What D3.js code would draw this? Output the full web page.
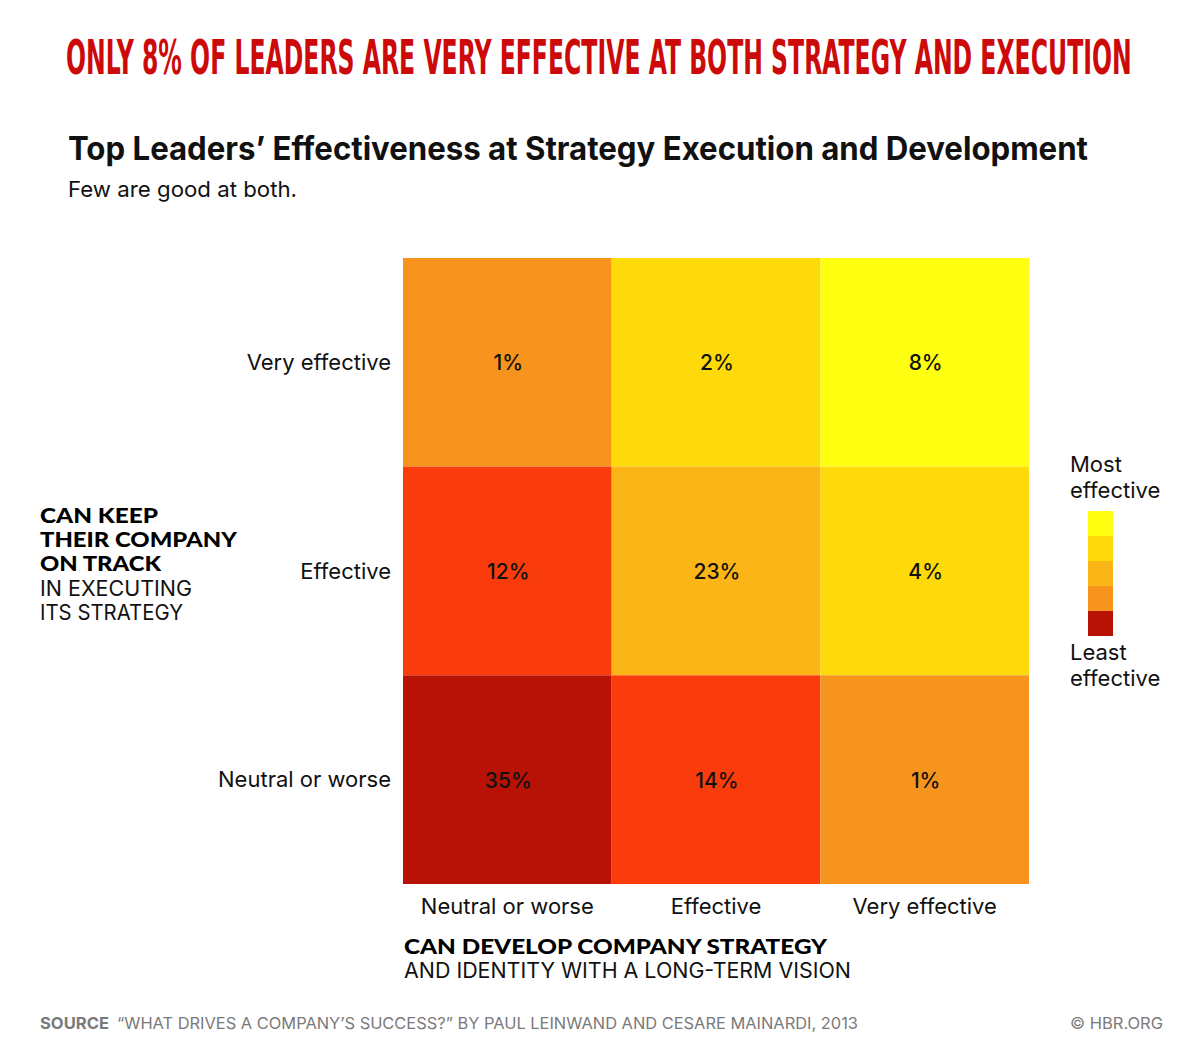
<!DOCTYPE html>
<html>
<head>
<meta charset="utf-8">
<script src="https://cdn.jsdelivr.net/npm/d3@7"></script>
<style>
  html, body { margin: 0; padding: 0; background: #fff; }
  svg { display: block; }
</style>
</head>
<body>
<svg id="chart" width="1200" height="1048"></svg>
<script>
// ---- data ----
const strategyCategories = ["Neutral or worse", "Effective", "Very effective"];   // x axis
const executionCategories = ["Very effective", "Effective", "Neutral or worse"]; // y axis, top to bottom
// values[row][col], rows follow executionCategories, cols follow strategyCategories
const values = [
  [1, 2, 8],
  [12, 23, 4],
  [35, 14, 1]
];
// effectiveness colour level of each cell (0 = least, 5 = most)
const levels = [
  [2, 4, 5],
  [1, 3, 4],
  [0, 1, 2]
];
const levelColors = ["#b81106", "#fa3c0c", "#f7941d", "#fbb516", "#ffda0a", "#ffff12"];
const legendLevels = [5, 4, 3, 2, 0];
const legendTop = ["Most", "effective"];
const legendBottom = ["Least", "effective"];
const yTitleBold = ["CAN KEEP", "THEIR COMPANY", "ON TRACK"];
const yTitleRegular = ["IN EXECUTING", "ITS STRATEGY"];
const xTitleBold = "CAN DEVELOP COMPANY STRATEGY";
const xTitleRegular = "AND IDENTITY WITH A LONG-TERM VISION";
const headline = "ONLY 8% OF LEADERS ARE VERY EFFECTIVE AT BOTH STRATEGY AND EXECUTION";
const title = "Top Leaders\u2019 Effectiveness at Strategy Execution and Development";
const subtitle = "Few are good at both.";
const sourceText = "\u201CWHAT DRIVES A COMPANY\u2019S SUCCESS?\u201D BY PAUL LEINWAND AND CESARE MAINARDI, 2013";
const credit = "\u00A9 HBR.ORG";

// ---- drawing ----
const svg = d3.select("#chart");
const font = "Inter, 'Noto Sans', sans-serif";
const heavy = "Lato, Inter, sans-serif";

const hg = svg.append("g");
const ht = hg.append("text").attr("x", 0).attr("y", 0)
  .attr("font-family", "'DejaVu Sans Condensed', 'DejaVu Sans', sans-serif")
  .attr("font-weight", 700).attr("font-size", 28).attr("fill", "#cc0a0a")
  .text(headline);
const hw = ht.node().getComputedTextLength();
hg.attr("transform", `translate(66,74) scale(${1066 / hw},1.7)`);

svg.append("text").attr("x", 68).attr("y", 160)
  .attr("font-family", font).attr("font-weight", 700).attr("font-size", 32).attr("fill", "#111")
  .attr("textLength", 1020).attr("lengthAdjust", "spacingAndGlyphs")
  .text(title);

svg.append("text").attr("x", 68).attr("y", 197)
  .attr("font-family", font).attr("font-size", 22).attr("fill", "#111")
  .attr("textLength", 229).attr("lengthAdjust", "spacingAndGlyphs")
  .text(subtitle);

const x = d3.scaleBand().domain(strategyCategories).range([403, 1029]).padding(0);
const y = d3.scaleBand().domain(executionCategories).range([258, 884]).padding(0);
const color = d3.scaleOrdinal().domain(d3.range(levelColors.length)).range(levelColors);

const cells = [];
executionCategories.forEach((r, i) => strategyCategories.forEach((c, j) =>
  cells.push({ row: r, col: c, value: values[i][j], level: levels[i][j] })));

const g = svg.append("g");
g.selectAll("rect.cell").data(cells).join("rect").attr("class", "cell")
  .attr("x", d => x(d.col)).attr("y", d => y(d.row))
  .attr("width", x.bandwidth()).attr("height", y.bandwidth())
  .attr("fill", d => color(d.level));

g.selectAll("text.val").data(cells).join("text").attr("class", "val")
  .attr("x", d => x(d.col) + x.bandwidth() / 2 + 1)
  .attr("y", d => y(d.row) + y.bandwidth() / 2 + 8)
  .attr("text-anchor", "middle").attr("font-family", font).attr("font-weight", 500)
  .attr("font-size", 21).attr("fill", "#111")
  .text(d => d.value + "%");

// axes
const yAxis = svg.append("g").attr("transform", "translate(403,0)")
  .call(d3.axisLeft(y).tickSize(0).tickPadding(12));
yAxis.select(".domain").remove();
yAxis.selectAll("text").attr("font-family", font).attr("font-size", 22).attr("fill", "#111")
  .attr("dy", "0.35em");

const xAxis = svg.append("g").attr("transform", "translate(0,884)")
  .call(d3.axisBottom(x).tickSize(0).tickPadding(14));
xAxis.select(".domain").remove();
xAxis.selectAll("text").attr("font-family", font).attr("font-size", 22).attr("fill", "#111")
  .attr("dy", "0.71em");

// y title
const yt = svg.append("g");
const ytBoldW = [118, 197, 121];
const ytRegW = [152, 143];
yTitleBold.forEach((t, i) => yt.append("text").attr("x", 40).attr("y", 523 + i * 24)
  .attr("font-family", heavy).attr("font-weight", 900).attr("font-size", 21).attr("fill", "#000")
  .attr("textLength", ytBoldW[i]).attr("lengthAdjust", "spacingAndGlyphs")
  .text(t));
yTitleRegular.forEach((t, i) => yt.append("text").attr("x", 40).attr("y", 596 + i * 24)
  .attr("font-family", font).attr("font-size", 21).attr("fill", "#111")
  .attr("textLength", ytRegW[i]).attr("lengthAdjust", "spacingAndGlyphs")
  .text(t));

// x title
svg.append("text").attr("x", 404).attr("y", 954)
  .attr("font-family", heavy).attr("font-weight", 900).attr("font-size", 21).attr("fill", "#000")
  .attr("textLength", 423).attr("lengthAdjust", "spacingAndGlyphs")
  .text(xTitleBold);
svg.append("text").attr("x", 404).attr("y", 978)
  .attr("font-family", font).attr("font-size", 21).attr("fill", "#111")
  .attr("textLength", 447).attr("lengthAdjust", "spacingAndGlyphs")
  .text(xTitleRegular);

// legend
const lg = svg.append("g");
lg.selectAll("rect").data(legendLevels).join("rect")
  .attr("x", 1088).attr("y", (d, i) => 511 + i * 25)
  .attr("width", 25).attr("height", 25).attr("fill", d => color(d));
legendTop.forEach((t, i) => lg.append("text").attr("x", 1070).attr("y", 472 + i * 26)
  .attr("font-family", font).attr("font-size", 22).attr("fill", "#111").text(t));
legendBottom.forEach((t, i) => lg.append("text").attr("x", 1070).attr("y", 660 + i * 26)
  .attr("font-family", font).attr("font-size", 22).attr("fill", "#111").text(t));

// source
svg.append("text").attr("x", 40).attr("y", 1029)
  .attr("font-family", font).attr("font-weight", 700).attr("font-size", 16).attr("fill", "#7a7a7a")
  .attr("textLength", 69).attr("lengthAdjust", "spacingAndGlyphs")
  .text("SOURCE");
svg.append("text").attr("x", 117).attr("y", 1029)
  .attr("font-family", font).attr("font-size", 16).attr("fill", "#7a7a7a")
  .attr("textLength", 741).attr("lengthAdjust", "spacingAndGlyphs")
  .text(sourceText);
svg.append("text").attr("x", 1163).attr("y", 1029).attr("text-anchor", "end")
  .attr("font-family", font).attr("font-size", 16).attr("fill", "#7a7a7a")
  .attr("textLength", 93).attr("lengthAdjust", "spacingAndGlyphs").text(credit);
</script>
</body>
</html>
